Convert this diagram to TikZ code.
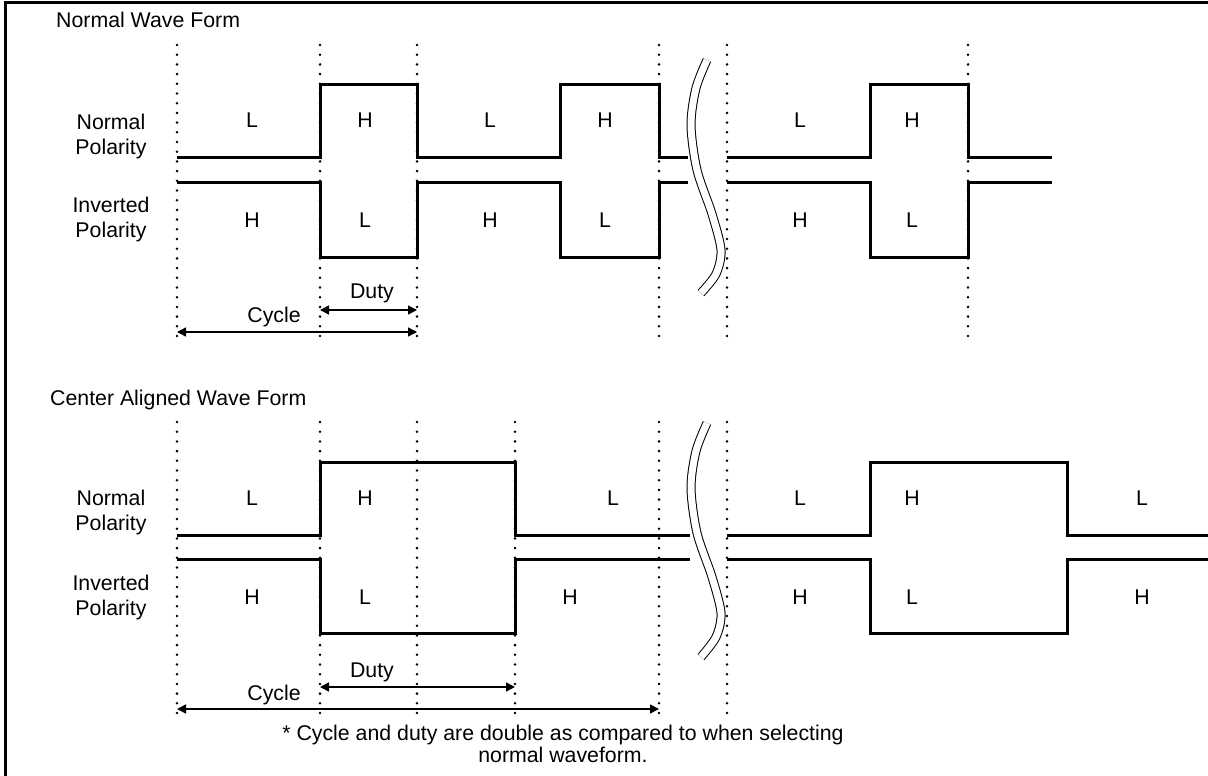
\documentclass[tikz,border=0pt]{standalone}
\usepackage{fontspec}
\setmainfont{Liberation Sans}
\usetikzlibrary{arrows.meta}
\begin{document}
\begin{tikzpicture}[x=1pt,y=-1pt,
  wave/.style={line width=3pt, line join=miter},
  dots/.style={line width=2.8pt, line cap=round, dash pattern=on 0pt off 9.7pt},
  lbl/.style={font=\fontsize{21.3}{25}\selectfont, inner sep=0pt},
  pol/.style={font=\fontsize{21.3}{25}\selectfont, inner sep=0pt, align=center},
  dimarrow/.style={line width=1.5pt, {Triangle[length=9pt,width=9pt]}-{Triangle[length=9pt,width=9pt]}},
  breakline/.style={draw=black, double=white, double distance=7pt, line width=1pt}]
\useasboundingbox (0,0) rectangle (1208,776);
\draw[line width=3pt] (5,776) -- (5,3) -- (1208,3);

% ---------- Normal wave form ----------
\node[lbl, anchor=west] (t1) at (56,20) {Normal Wave Form};
\foreach \x in {177,320,417,659,727,968} \draw[dots] (\x,45) -- (\x,345);

\draw[wave] (177,157) -- (320,157) -- (320,85) -- (417,85) -- (417,157) -- (560,157) -- (560,85) -- (659,85) -- (659,157) -- (688,157);
\draw[wave] (727,157) -- (870,157) -- (870,85) -- (968,85) -- (968,157) -- (1052,157);
\draw[wave] (177,182) -- (320,182) -- (320,257) -- (417,257) -- (417,182) -- (560,182) -- (560,257) -- (659,257) -- (659,182) -- (688,182);
\draw[wave] (727,182) -- (870,182) -- (870,257) -- (968,257) -- (968,182) -- (1052,182);

\draw[breakline] plot[smooth] coordinates {(707,60) (696,88) (691,125) (697,170) (712,214) (721,250) (716,274) (701,293)};

\node[pol] (np1) at (111,136) {Normal\\Polarity};
\node[pol] (ip1) at (111,219) {Inverted\\Polarity};

\node[lbl] (a1) at (252,120) {L};
\node[lbl] (a2) at (365,120) {H};
\node[lbl] (a3) at (490,120) {L};
\node[lbl] (a4) at (605,120) {H};
\node[lbl] (a5) at (800,120) {L};
\node[lbl] (a6) at (912,120) {H};
\node[lbl] (b1) at (252,220) {H};
\node[lbl] (b2) at (365,220) {L};
\node[lbl] (b3) at (490,220) {H};
\node[lbl] (b4) at (605,220) {L};
\node[lbl] (b5) at (800,220) {H};
\node[lbl] (b6) at (912,220) {L};

\coordinate (d1s) at (320,310);
\coordinate (d1e) at (417,310);
\coordinate (c1s) at (177,332);
\coordinate (c1e) at (417,332);
\draw[dimarrow] (d1s) -- (d1e);
\draw[dimarrow] (c1s) -- (c1e);
\node[lbl] (duty1) at (372,293) {Duty};
\node[lbl] (cyc1) at (274,317) {Cycle};

% ---------- Center aligned wave form ----------
\node[lbl, anchor=west] (t2) at (50,400) {Center Aligned Wave Form};
\foreach \x in {177,320,417,515,659,727} \draw[dots] (\x,422) -- (\x,722);

\draw[wave] (177,535) -- (320,535) -- (320,462) -- (515,462) -- (515,535) -- (690,535);
\draw[wave] (727,535) -- (870,535) -- (870,462) -- (1067,462) -- (1067,535) -- (1208,535);
\draw[wave] (177,559) -- (320,559) -- (320,633) -- (515,633) -- (515,559) -- (690,559);
\draw[wave] (727,559) -- (870,559) -- (870,633) -- (1067,633) -- (1067,559) -- (1208,559);

\draw[breakline] plot[smooth] coordinates {(707,423) (696,451) (691,488) (697,533) (712,577) (721,613) (716,637) (701,657)};

\node[pol] (np2) at (111,512) {Normal\\Polarity};
\node[pol] (ip2) at (111,597) {Inverted\\Polarity};

\node[lbl] (e1) at (252,498) {L};
\node[lbl] (e2) at (365,498) {H};
\node[lbl] (e3) at (613,498) {L};
\node[lbl] (e4) at (800,498) {L};
\node[lbl] (e5) at (912,498) {H};
\node[lbl] (e6) at (1142,498) {L};
\node[lbl] (f1) at (252,597) {H};
\node[lbl] (f2) at (365,597) {L};
\node[lbl] (f3) at (570,597) {H};
\node[lbl] (f4) at (800,597) {H};
\node[lbl] (f5) at (912,597) {L};
\node[lbl] (f6) at (1142,597) {H};

\coordinate (d2s) at (320,687);
\coordinate (d2e) at (515,687);
\coordinate (c2s) at (177,709);
\coordinate (c2e) at (659,709);
\draw[dimarrow] (d2s) -- (d2e);
\draw[dimarrow] (c2s) -- (c2e);
\node[lbl] (duty2) at (372,672) {Duty};
\node[lbl] (cyc2) at (274,695) {Cycle};

\node[lbl, align=center, font=\fontsize{21.3}{22}\selectfont] (note) at (563,744) {* Cycle and duty are double as compared to when selecting\\normal waveform.};
\end{tikzpicture}
\end{document}
